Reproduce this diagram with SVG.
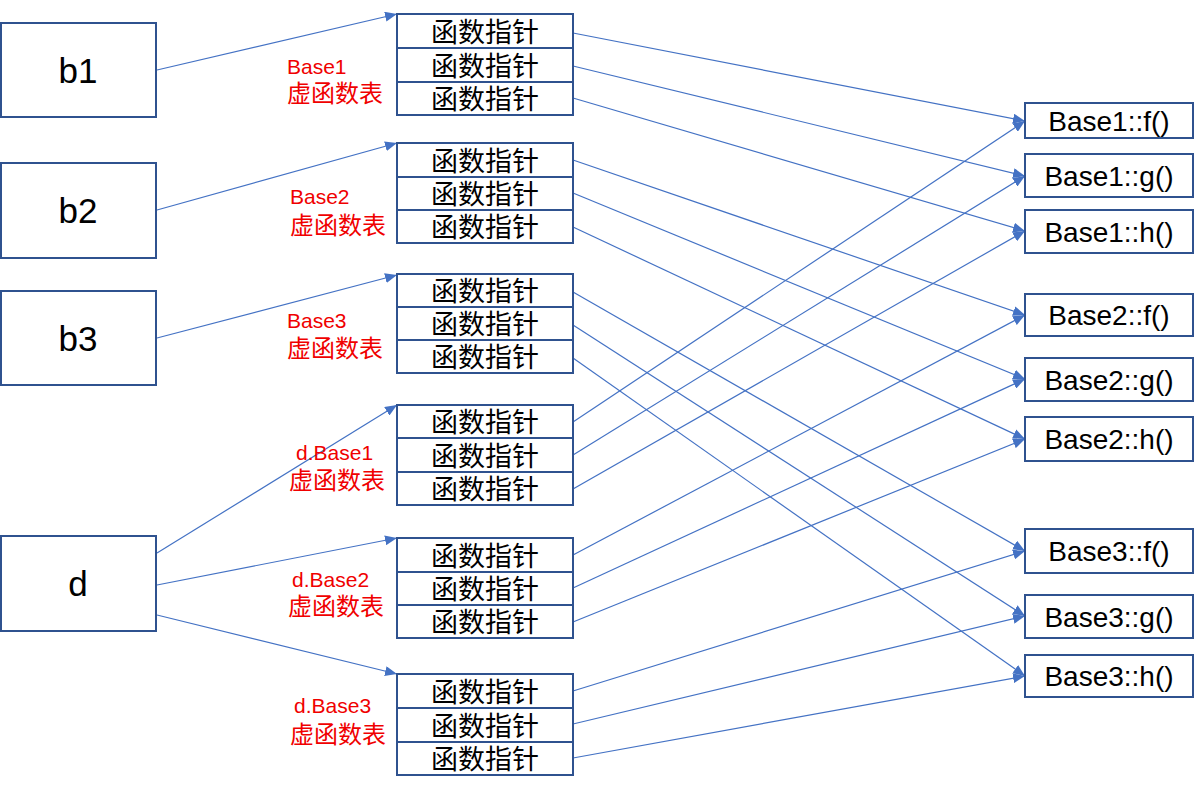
<svg xmlns="http://www.w3.org/2000/svg" width="1199" height="794" viewBox="0 0 1199 794">
<defs>
<marker id="arr" viewBox="0 0 12 10" refX="12" refY="5" markerWidth="12" markerHeight="10" orient="auto" markerUnits="userSpaceOnUse">
<path d="M0,0 L12,5 L0,10 z" fill="#4472C4"/>
</marker>
</defs>
<style>
.box{fill:#fff;stroke:#2F528F;stroke-width:2}
.big{font-family:"Liberation Sans","Noto Sans",sans-serif;font-size:35px;fill:#000;text-anchor:middle}
.fn{font-family:"Liberation Sans","Noto Sans",sans-serif;font-size:28px;fill:#000;text-anchor:middle}
.cell{font-family:"Noto Sans CJK SC",sans-serif;font-size:27px;fill:#000;text-anchor:middle}
.rl{font-family:"Liberation Sans","Noto Sans",sans-serif;font-size:21px;fill:#F00000}
.rc{font-family:"Noto Sans CJK SC",sans-serif;font-size:24px;fill:#F00000}
.ln{fill:none;stroke:#4472C4;stroke-width:1.2;marker-end:url(#arr)}
</style>
<rect width="1199" height="794" fill="#fff"/>

<g id="connectors">
<line class="ln" x1="157" y1="70" x2="397" y2="14"/>
<line class="ln" x1="157" y1="210" x2="397" y2="143"/>
<line class="ln" x1="157" y1="338" x2="397" y2="275"/>
<line class="ln" x1="157" y1="553" x2="397" y2="405"/>
<line class="ln" x1="157" y1="585" x2="397" y2="538"/>
<line class="ln" x1="157" y1="615" x2="397" y2="674"/>

<line class="ln" x1="573" y1="33" x2="1025" y2="121"/>
<line class="ln" x1="573" y1="66" x2="1025" y2="176"/>
<line class="ln" x1="573" y1="98" x2="1025" y2="231"/>
<line class="ln" x1="573" y1="160" x2="1025" y2="315"/>
<line class="ln" x1="573" y1="193" x2="1025" y2="379"/>
<line class="ln" x1="573" y1="227" x2="1025" y2="439"/>
<line class="ln" x1="573" y1="292" x2="1025" y2="551"/>
<line class="ln" x1="573" y1="325" x2="1025" y2="616"/>
<line class="ln" x1="573" y1="358" x2="1025" y2="676"/>
<line class="ln" x1="573" y1="422" x2="1025" y2="121"/>
<line class="ln" x1="573" y1="455" x2="1025" y2="176"/>
<line class="ln" x1="573" y1="489" x2="1025" y2="231"/>
<line class="ln" x1="573" y1="555" x2="1025" y2="315"/>
<line class="ln" x1="573" y1="588" x2="1025" y2="379"/>
<line class="ln" x1="573" y1="622" x2="1025" y2="439"/>
<line class="ln" x1="573" y1="691" x2="1025" y2="551"/>
<line class="ln" x1="573" y1="724" x2="1025" y2="616"/>
<line class="ln" x1="573" y1="758" x2="1025" y2="676"/>
</g>

<g id="b1"><rect class="box" x="1" y="23" width="155" height="94"/><text class="big" x="78" y="83">b1</text></g>
<g id="b2"><rect class="box" x="1" y="163" width="155" height="95"/><text class="big" x="78" y="223">b2</text></g>
<g id="b3"><rect class="box" x="1" y="291" width="155" height="94"/><text class="big" x="78" y="351">b3</text></g>
<g id="d"><rect class="box" x="1" y="536" width="155" height="95"/><text class="big" x="78" y="596">d</text></g>

<g id="vt-base1">
<rect class="box" x="397" y="14" width="176" height="34"/><text class="cell" x="485" y="42">函数指针</text>
<rect class="box" x="397" y="48" width="176" height="34"/><text class="cell" x="485" y="76">函数指针</text>
<rect class="box" x="397" y="82" width="176" height="33"/><text class="cell" x="485" y="109">函数指针</text>
</g>
<g id="vt-base2">
<rect class="box" x="397" y="143" width="176" height="34"/><text class="cell" x="485" y="171">函数指针</text>
<rect class="box" x="397" y="177" width="176" height="33"/><text class="cell" x="485" y="204">函数指针</text>
<rect class="box" x="397" y="210" width="176" height="33"/><text class="cell" x="485" y="237">函数指针</text>
</g>
<g id="vt-base3">
<rect class="box" x="397" y="274" width="176" height="33"/><text class="cell" x="485" y="301">函数指针</text>
<rect class="box" x="397" y="307" width="176" height="33"/><text class="cell" x="485" y="334">函数指针</text>
<rect class="box" x="397" y="340" width="176" height="33"/><text class="cell" x="485" y="367">函数指针</text>
</g>
<g id="vt-d-base1">
<rect class="box" x="397" y="405" width="176" height="33"/><text class="cell" x="485" y="432">函数指针</text>
<rect class="box" x="397" y="438" width="176" height="34"/><text class="cell" x="485" y="466">函数指针</text>
<rect class="box" x="397" y="472" width="176" height="33"/><text class="cell" x="485" y="499">函数指针</text>
</g>
<g id="vt-d-base2">
<rect class="box" x="397" y="538" width="176" height="34"/><text class="cell" x="485" y="566">函数指针</text>
<rect class="box" x="397" y="572" width="176" height="33"/><text class="cell" x="485" y="599">函数指针</text>
<rect class="box" x="397" y="605" width="176" height="33"/><text class="cell" x="485" y="632">函数指针</text>
</g>
<g id="vt-d-base3">
<rect class="box" x="397" y="674" width="176" height="34"/><text class="cell" x="485" y="702">函数指针</text>
<rect class="box" x="397" y="708" width="176" height="34"/><text class="cell" x="485" y="736">函数指针</text>
<rect class="box" x="397" y="742" width="176" height="33"/><text class="cell" x="485" y="769">函数指针</text>
</g>

<g id="labels">
<text class="rl" x="287" y="74">Base1</text><text class="rc" x="287" y="102">虚函数表</text>
<text class="rl" x="290" y="204">Base2</text><text class="rc" x="290" y="234">虚函数表</text>
<text class="rl" x="287" y="328">Base3</text><text class="rc" x="287" y="357">虚函数表</text>
<text class="rl" x="296" y="460">d.Base1</text><text class="rc" x="289" y="489">虚函数表</text>
<text class="rl" x="292" y="587">d.Base2</text><text class="rc" x="288" y="615">虚函数表</text>
<text class="rl" x="294" y="713">d.Base3</text><text class="rc" x="290" y="743">虚函数表</text>
</g>

<g id="base1-f"><rect class="box" x="1025" y="103" width="168" height="35"/><text class="fn" x="1109" y="131">Base1::f()</text></g>
<g id="base1-g"><rect class="box" x="1025" y="154" width="168" height="43"/><text class="fn" x="1109" y="186">Base1::g()</text></g>
<g id="base1-h"><rect class="box" x="1025" y="210" width="168" height="43"/><text class="fn" x="1109" y="242">Base1::h()</text></g>
<g id="base2-f"><rect class="box" x="1025" y="294" width="168" height="42"/><text class="fn" x="1109" y="325">Base2::f()</text></g>
<g id="base2-g"><rect class="box" x="1025" y="358" width="168" height="43"/><text class="fn" x="1109" y="390">Base2::g()</text></g>
<g id="base2-h"><rect class="box" x="1025" y="417" width="168" height="44"/><text class="fn" x="1109" y="449">Base2::h()</text></g>
<g id="base3-f"><rect class="box" x="1025" y="529" width="168" height="44"/><text class="fn" x="1109" y="561">Base3::f()</text></g>
<g id="base3-g"><rect class="box" x="1025" y="595" width="168" height="43"/><text class="fn" x="1109" y="627">Base3::g()</text></g>
<g id="base3-h"><rect class="box" x="1025" y="655" width="168" height="42"/><text class="fn" x="1109" y="686">Base3::h()</text></g>
</svg>
